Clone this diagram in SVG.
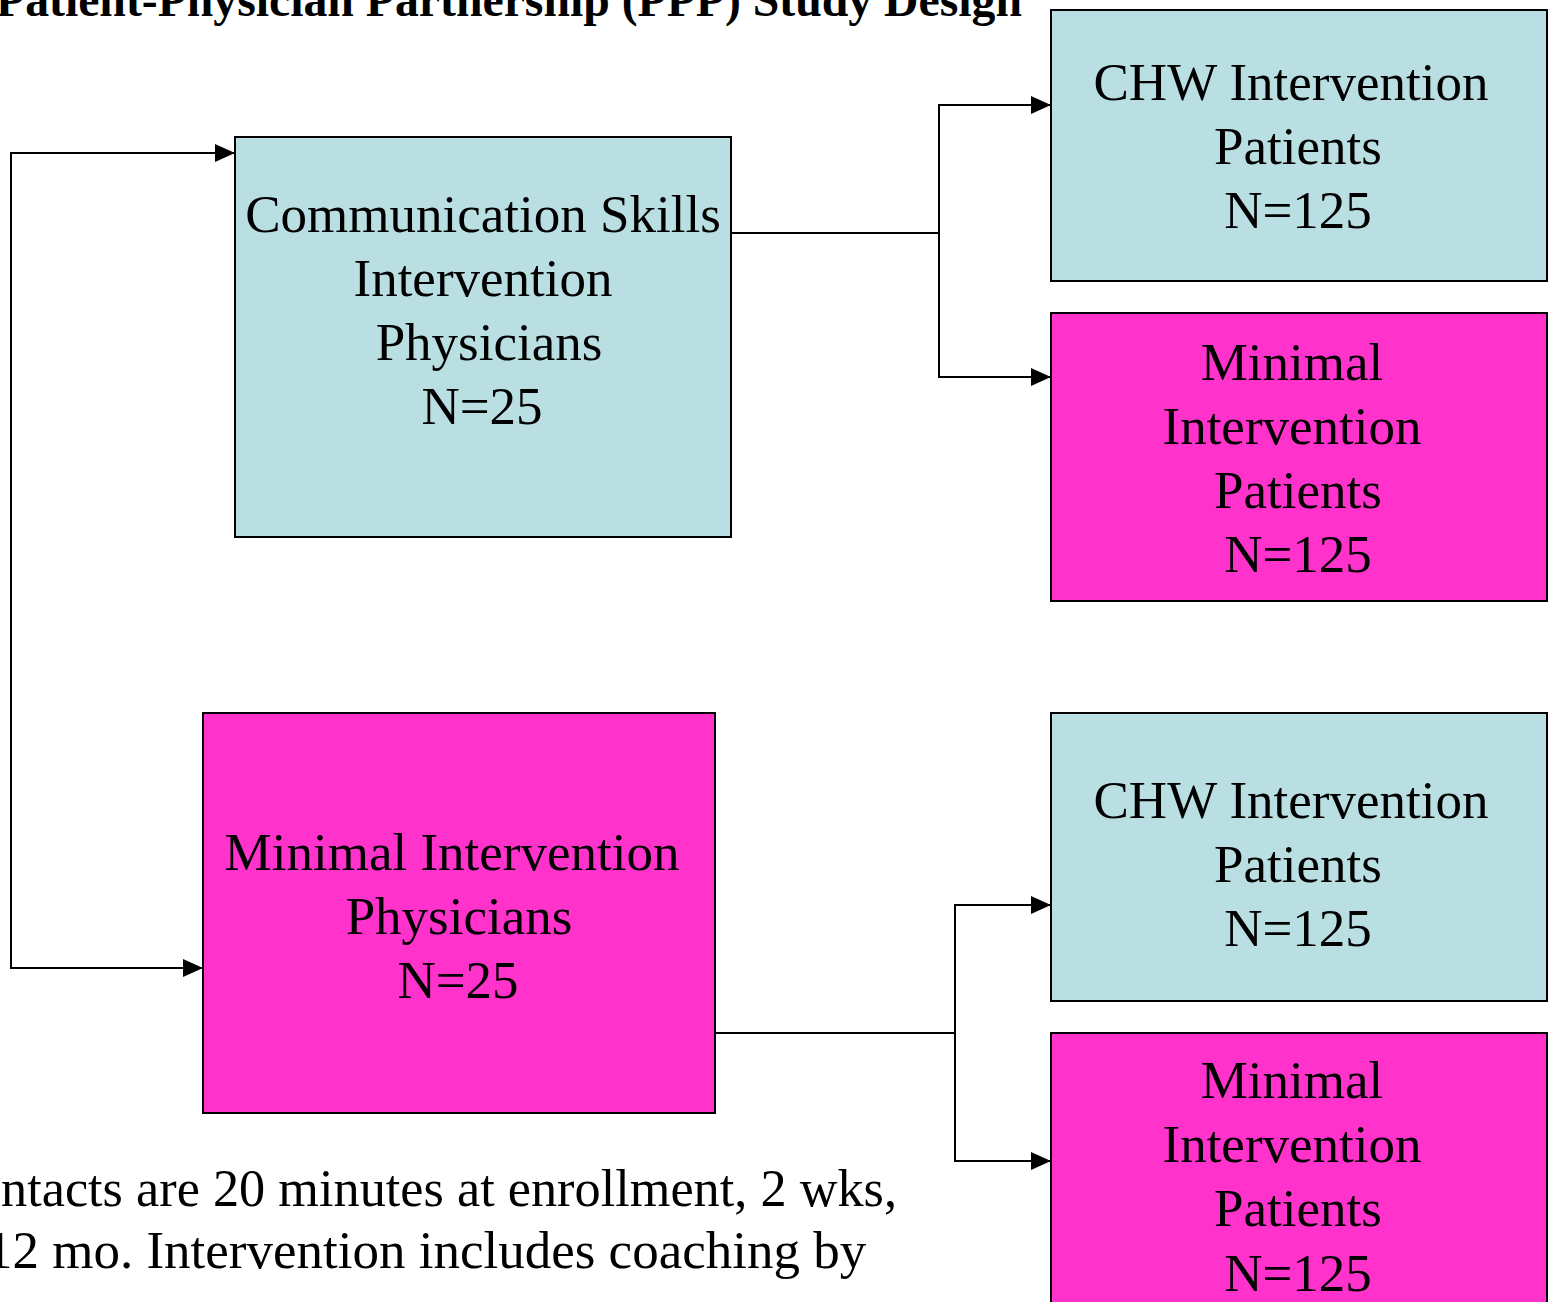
<svg xmlns="http://www.w3.org/2000/svg" width="1552" height="1302" viewBox="0 0 1552 1302">
<style>
text{font-family:"Liberation Serif","Times New Roman",serif;fill:#000}
.lbl{font-size:53px;text-anchor:middle}
.note{font-size:53px}
.title{font-size:48px;font-weight:bold}
.blue{fill:#B9DFE2;stroke:#000;stroke-width:2}
.pink{fill:#FF33CC;stroke:#000;stroke-width:2}
.conn{fill:none;stroke:#000;stroke-width:2}
</style>
<defs>
<marker id="arr" viewBox="0 0 20 18" refX="20" refY="9" markerWidth="20" markerHeight="18" markerUnits="userSpaceOnUse" orient="auto">
<path d="M0,0 L20,9 L0,18 Z" fill="#000"/>
</marker>
</defs>
<rect width="1552" height="1302" fill="#fff"/>
<text class="title" x="-4" y="16" textLength="1026" lengthAdjust="spacingAndGlyphs">Patient-Physician Partnership (PPP) Study Design</text>
<g id="connectors">
<path class="conn" d="M731,233 H939"/>
<path class="conn" d="M939,233 V105 H1051" marker-end="url(#arr)"/>
<path class="conn" d="M939,233 V377 H1051" marker-end="url(#arr)"/>
<path class="conn" d="M11,560 V153 H235" marker-end="url(#arr)"/>
<path class="conn" d="M11,560 V968 H203" marker-end="url(#arr)"/>
<path class="conn" d="M715,1033 H955"/>
<path class="conn" d="M955,1033 V905 H1051" marker-end="url(#arr)"/>
<path class="conn" d="M955,1033 V1161 H1051" marker-end="url(#arr)"/>
</g>
<g id="comm-physicians">
<rect class="blue" x="235" y="137" width="496" height="400"/>
<text class="lbl" x="483" y="232">Communication Skills</text>
<text class="lbl" x="483" y="296">Intervention</text>
<text class="lbl" x="489" y="360">Physicians</text>
<text class="lbl" x="482" y="424">N=25</text>
</g>
<g id="min-physicians">
<rect class="pink" x="203" y="713" width="512" height="400"/>
<text class="lbl" x="452" y="870">Minimal Intervention</text>
<text class="lbl" x="459" y="934">Physicians</text>
<text class="lbl" x="458" y="998">N=25</text>
</g>
<g id="chw-patients-1">
<rect class="blue" x="1051" y="10" width="496" height="271"/>
<text class="lbl" x="1291" y="100">CHW Intervention</text>
<text class="lbl" x="1298" y="164">Patients</text>
<text class="lbl" x="1298" y="228">N=125</text>
</g>
<g id="min-patients-1">
<rect class="pink" x="1051" y="313" width="496" height="288"/>
<text class="lbl" x="1292" y="380">Minimal</text>
<text class="lbl" x="1292" y="444">Intervention</text>
<text class="lbl" x="1298" y="508">Patients</text>
<text class="lbl" x="1298" y="572">N=125</text>
</g>
<g id="chw-patients-2">
<rect class="blue" x="1051" y="713" width="496" height="288"/>
<text class="lbl" x="1291" y="818">CHW Intervention</text>
<text class="lbl" x="1298" y="882">Patients</text>
<text class="lbl" x="1298" y="946">N=125</text>
</g>
<g id="min-patients-2">
<rect class="pink" x="1051" y="1033" width="496" height="300"/>
<text class="lbl" x="1292" y="1098">Minimal</text>
<text class="lbl" x="1292" y="1162">Intervention</text>
<text class="lbl" x="1298" y="1226">Patients</text>
<text class="lbl" x="1298" y="1291">N=125</text>
</g>
<g id="note">
<text class="note" x="1" y="1206" textLength="896" lengthAdjust="spacingAndGlyphs">ntacts are 20 minutes at enrollment, 2 wks,</text>
<text class="note" x="-14" y="1268">12 mo. Intervention includes coaching by</text>
</g>
</svg>
